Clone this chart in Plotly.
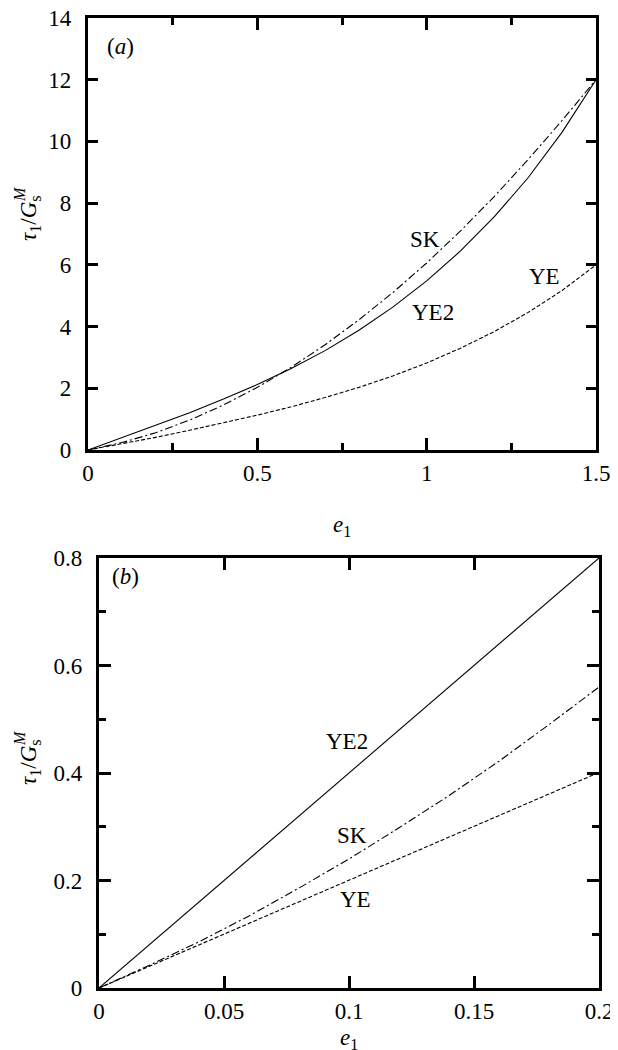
import plotly.graph_objects as go

# ---- data ----
# panel (a)
e_a = [0.0, 0.1, 0.2, 0.3, 0.4, 0.5, 0.6, 0.7, 0.8, 0.9, 1.0, 1.1, 1.2, 1.3, 1.4, 1.5]
ye2_a = [0.0, 0.40, 0.80, 1.21, 1.65, 2.12, 2.64, 3.22, 3.88, 4.63, 5.48, 6.45, 7.56, 8.83, 10.30, 12.0]
sk_a = [0.0, 0.24, 0.56, 0.97, 1.46, 2.03, 2.68, 3.41, 4.22, 5.10, 6.06, 7.10, 8.22, 9.42, 10.68, 12.0]
ye_a = [0.0, 0.20, 0.41, 0.64, 0.88, 1.13, 1.40, 1.70, 2.03, 2.40, 2.82, 3.30, 3.84, 4.46, 5.17, 6.0]

# panel (b)
e_b = [0.0, 0.02, 0.04, 0.06, 0.08, 0.10, 0.12, 0.14, 0.16, 0.18, 0.20]
ye2_b = [0.0, 0.08, 0.16, 0.24, 0.32, 0.40, 0.48, 0.56, 0.64, 0.72, 0.80]
sk_b = [0.0, 0.042, 0.086, 0.134, 0.186, 0.240, 0.298, 0.358, 0.422, 0.490, 0.560]
ye_b = [0.0, 0.04, 0.08, 0.12, 0.16, 0.20, 0.24, 0.28, 0.32, 0.36, 0.401]

# curve labels (text, x, y)
labels_a = [("SK", 0.994, 6.82), ("YE2", 1.018, 4.47), ("YE", 1.348, 5.63)]
labels_b = [("YE2", 0.0993, 0.458), ("SK", 0.1013, 0.284), ("YE", 0.1027, 0.164)]

FONT = "Liberation Serif, Times New Roman, Times, serif"
FS = 23
W, H = 618, 1050

solid = dict(color="black", width=1.1)
dashdot = dict(color="black", width=1.1, dash="8px,3px,2px,3px")
dashed = dict(color="black", width=1.1, dash="4px,2px")

fig = go.Figure()
for xs, ys, ln, xa, ya in [
    (e_a, ye2_a, solid, "x", "y"),
    (e_a, sk_a, dashdot, "x", "y"),
    (e_a, ye_a, dashed, "x", "y"),
    (e_b, ye2_b, solid, "x2", "y2"),
    (e_b, sk_b, dashdot, "x2", "y2"),
    (e_b, ye_b, dashed, "x2", "y2"),
]:
    fig.add_trace(go.Scatter(x=xs, y=ys, mode="lines", line=ln, xaxis=xa, yaxis=ya,
                             showlegend=False, hoverinfo="skip"))

common = dict(showline=True, linewidth=3.2, linecolor="black", mirror="allticks",
              ticks="inside", tickwidth=2.6, tickcolor="black", showgrid=False,
              zeroline=False, automargin=False, ticklabeloverflow="allow",
              tickfont=dict(family=FONT, size=FS, color="black"))

fig.update_layout(
    width=W, height=H, autosize=False,
    margin=dict(l=0, r=0, t=0, b=0),
    paper_bgcolor="white", plot_bgcolor="white",
    font=dict(family=FONT, size=FS, color="black"),
    xaxis=dict(common, domain=[80 / W, 588 / W], range=[0, 1.5], dtick=0.5, tick0=0,
               ticklen=12, ticklabelstandoff=0,
               minor=dict(ticks="inside", dtick=0.25, tick0=0, ticklen=7, tickwidth=2.6,
                          tickcolor="black", showgrid=False),
               anchor="y"),
    yaxis=dict(common, domain=[1 - 442 / H, 1 - 10 / H], range=[0, 14], dtick=2, tick0=0,
               ticklen=10, ticklabelstandoff=9, anchor="x"),
    xaxis2=dict(common, domain=[91 / W, 591 / W], range=[0, 0.2], dtick=0.05, tick0=0,
                ticklen=12, ticklabelstandoff=0, anchor="y2"),
    yaxis2=dict(common, domain=[1 - 980 / H, 1 - 550 / H], range=[0, 0.8], dtick=0.2, tick0=0,
                ticklen=12, ticklabelstandoff=9,
                minor=dict(ticks="inside", dtick=0.1, tick0=0, ticklen=7, tickwidth=2.6,
                           tickcolor="black", showgrid=False),
                anchor="x2"),
)

def txt(x, y, text, size=FS, angle=0, ref=("paper", "paper")):
    fig.add_annotation(x=x, y=y, xref=ref[0], yref=ref[1], text=text, textangle=angle,
                       showarrow=False, xanchor="center", yanchor="middle",
                       font=dict(family=FONT, size=size, color="black"))

for t, x, y in labels_a:
    txt(x, y, t, ref=("x", "y"))
for t, x, y in labels_b:
    txt(x, y, t, ref=("x2", "y2"))

txt(112 / W, 1 - 38 / H, "(<i>a</i>)")
txt(117 / W, 1 - 568 / H, "(<i>b</i>)")

# x-axis titles
txt(334 / W, 1 - 518 / H, "<i>e</i><sub>1</sub>")
txt(341 / W, 1 - 1031 / H, "<i>e</i><sub>1</sub>")

# y-axis titles: tau_1 / G_s with the superscript M stacked over the s
for yc in (210, 754):
    txt(22 / W, 1 - yc / H, "<i>τ</i><sub>1</sub>/<i>G</i><sub>s</sub>", angle=-90)
    txt(11 / W, 1 - (yc - 24) / H, "<i>M</i>", size=16, angle=-90)

fig.write_html("out.html")
